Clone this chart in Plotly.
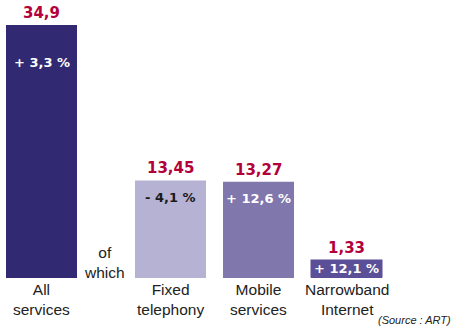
import plotly.graph_objects as go

categories = ["All<br>services", "Fixed<br>telephony", "Mobile<br>services", "Narrowband<br>Internet"]
values = [34.9, 13.45, 13.27, 1.33]
value_labels = ["34,9", "13,45", "13,27", "1,33"]
change_labels = ["+ 3,3 %", "- 4,1 %", "+ 12,6 %", "+ 12,1 %"]
positions = [0.0, 1.466, 2.466, 3.466]
of_which_pos = 0.72

colors = ["#312a72", "#b6b2d3", "#8077ad", "#5b4f98"]
change_colors = ["white", "#1a1a1a", "white", "white"]
red = "#b3003b"

W, H = 453, 331
px_per_x = 88.0
px_per_y = 7.25
x0 = -41.5 / px_per_x
xr = [x0, x0 + W / px_per_x]
base_px = 278
yr = [-(H - base_px) / px_per_y, base_px / px_per_y]
bar_w = 71 / px_per_x

fig = go.Figure()
fig.add_trace(go.Bar(x=positions, y=values, width=bar_w, marker=dict(color=colors, line=dict(width=0)),
                     hoverinfo="skip"))

ann = []
lbl_font = dict(family="DejaVu Sans", size=15, color=red)
cat_font = dict(family="Liberation Sans", size=15.5, color="#222")
for i, (p, v) in enumerate(zip(positions, values)):
    top = v
    if i == 3:
        ann.append(dict(x=p, y=0, yanchor="bottom", text="<b>%s</b>" % change_labels[i], showarrow=False,
                        bgcolor=colors[i], width=71, height=17, borderpad=0,
                        font=dict(family="DejaVu Sans", size=13, color=change_colors[i])))
        top = 18 / px_per_y
    else:
        shift = -38 if i == 0 else -17
        ann.append(dict(x=p, y=v, yanchor="middle", yshift=shift, text="<b>%s</b>" % change_labels[i],
                        showarrow=False, font=dict(family="DejaVu Sans", size=13, color=change_colors[i])))
    ann.append(dict(x=p, y=top, yanchor="middle", yshift=12, text="<b>%s</b>" % value_labels[i],
                    showarrow=False, font=lbl_font))
    ann.append(dict(x=p, y=0, yanchor="top", yshift=-1, text=categories[i], showarrow=False,
                    font=cat_font))

ann.append(dict(x=of_which_pos, y=0, yanchor="bottom", yshift=-5, text="of<br>which", showarrow=False,
                font=cat_font))
ann.append(dict(xref="paper", yref="paper", x=1, y=0, xanchor="right", yanchor="bottom", yshift=3,
                text="<i>(Source : ART)</i>", showarrow=False,
                font=dict(family="Liberation Sans", size=11, color="#222")))

fig.update_layout(
    width=W, height=H, margin=dict(l=0, r=0, t=0, b=0),
    paper_bgcolor="white", plot_bgcolor="white", showlegend=False,
    xaxis=dict(range=xr, visible=False, fixedrange=True),
    yaxis=dict(range=yr, visible=False, fixedrange=True),
    annotations=ann,
)
fig.write_html("out.html", config={"displayModeBar": False})
